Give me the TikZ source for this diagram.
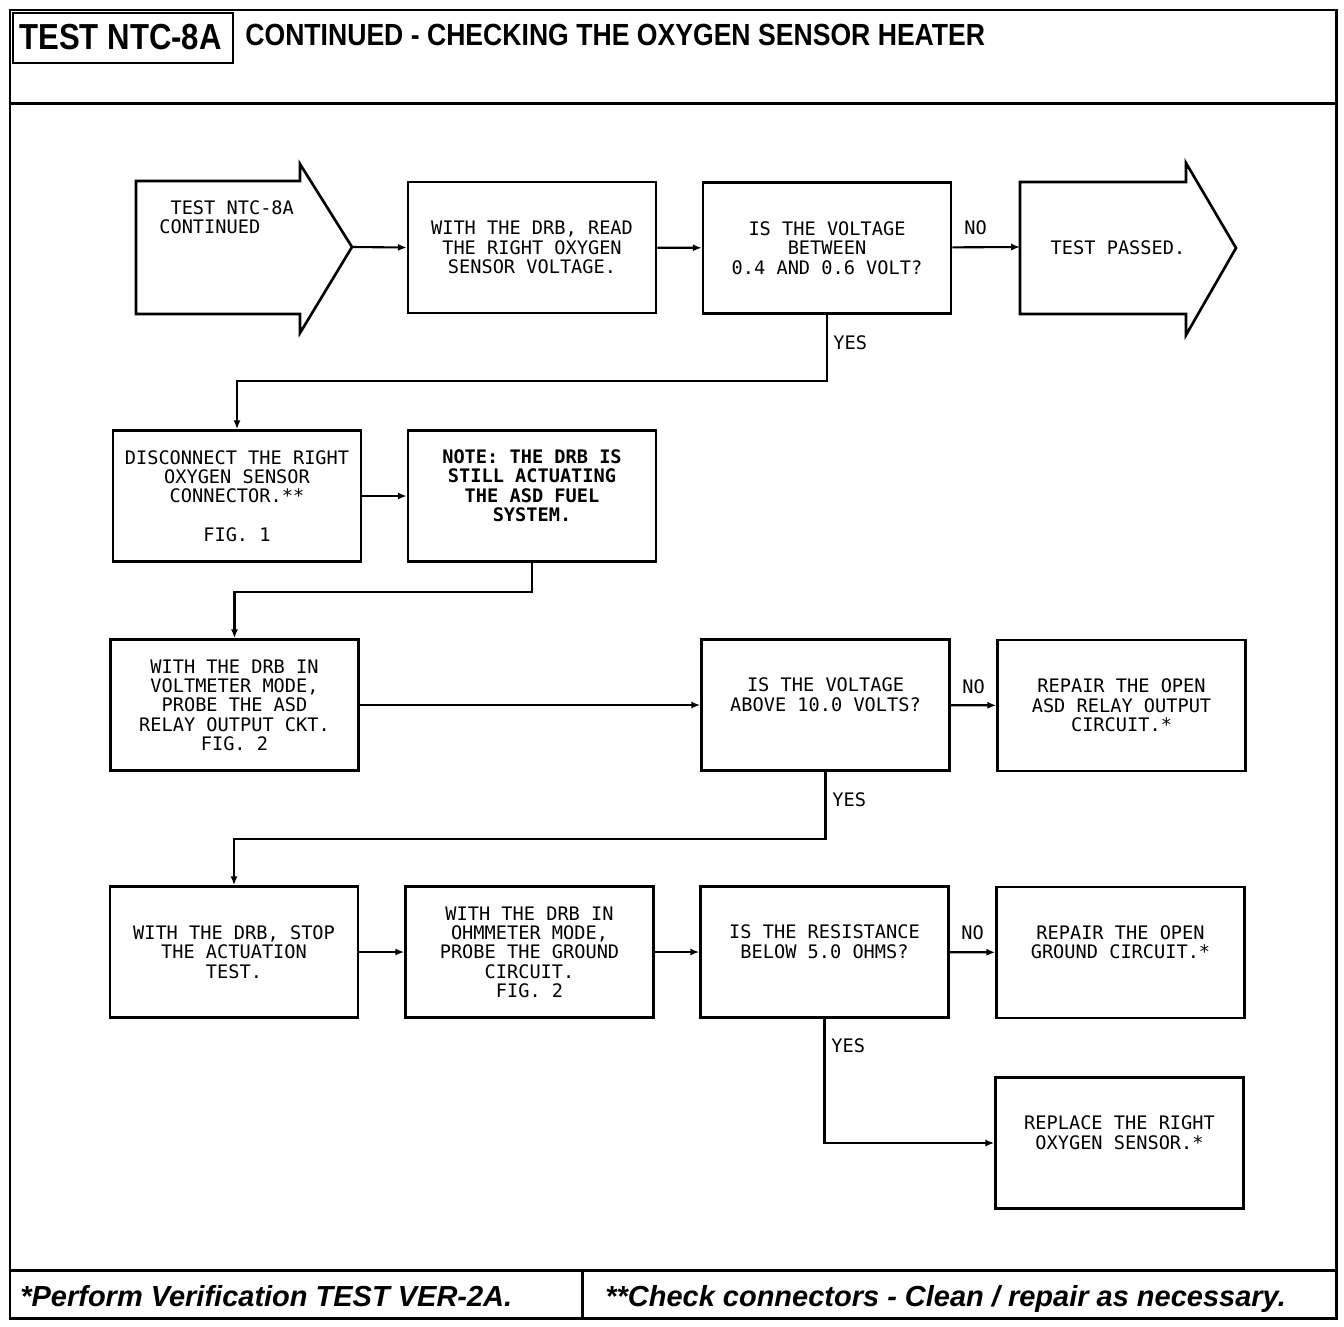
\documentclass[tikz,border=0pt]{standalone}
\usepackage{fontspec}
\usepackage{graphicx}
\setmainfont{Liberation Sans}
\newfontfamily\dotfont{DejaVu Sans Mono}
\usetikzlibrary{arrows.meta}
\newcommand\squeeze[2]{\scalebox{#1}[1]{#2}}

\begin{document}
\begin{tikzpicture}[
    x=0.02cm, y=-0.02cm,
    frame/.style={line width=1.7pt},
    outline/.style={line width=1.5pt, line join=miter},
    boxtext/.style={inner sep=0pt, align=center,
                    font=\dotfont\fontsize{10.6}{11}\selectfont},
    stepbox/.style={boxtext, draw, line width=1.5pt, minimum width=4.96cm,
                    minimum height=2.62cm},
    upper/.style={text depth=12pt},
    tag/.style={boxtext, anchor=west},
    flow/.style={line width=1.2pt, -{Latex[length=5pt,width=4pt]}},
    head/.style={inner sep=0pt, anchor=west, font=\bfseries},
    foot/.style={inner sep=0pt, anchor=base west,
                 font=\bfseries\itshape\fontsize{16.5}{18}\selectfont},
]
\useasboundingbox (0,0) rectangle (1344,1326);

% ---- frame, header and footer ----
\draw[frame] (10,10) rectangle (1336,1318);
\draw[frame] (10,103) -- (1336,103);
\draw[frame] (10,1270) -- (1336,1270);
\draw[frame] (582,1270) -- (582,1318);
\draw[line width=0.9pt] (13,13) rectangle (233,63);
\node[head, font=\bfseries\fontsize{20.6}{22}\selectfont] (testid) at (19,37)
    {\squeeze{0.86}{TEST NTC-8A}};
\node[head, font=\bfseries\fontsize{17.4}{19}\selectfont] (title) at (245,35)
    {\squeeze{0.87}{CONTINUED - CHECKING THE OXYGEN SENSOR HEATER}};
\node[foot] (note1) at (20,1306) {*Perform Verification TEST VER-2A.};
\node[foot] (note2) at (605,1306) {**Check connectors - Clean / repair as necessary.};

% ---- pointers: start and end of the test ----
\draw[outline] (300,181) -- (136,181) -- (136,314) -- (300,314) -- (300,333)
    -- (352,247) -- (300,164) -- cycle;
\coordinate (starttip) at (352,247);
\node[boxtext, align=left, anchor=north west] (start) at (159,200)
    {\phantom{C}TEST NTC-8A\\CONTINUED};

\draw[outline] (1186,182) -- (1020,182) -- (1020,314) -- (1186,314) -- (1186,335)
    -- (1236,248) -- (1186,163) -- cycle;
\coordinate (passin) at (1020,247);
\node[boxtext] (pass) at (1118,248) {TEST PASSED.};

% ---- row 1 ----
\node[stepbox] (read) at (532,247.5)
    {WITH THE DRB, READ\\THE RIGHT OXYGEN\\SENSOR VOLTAGE.};
\node[stepbox] (between) at (827,248)
    {IS THE VOLTAGE\\BETWEEN\\0.4 AND 0.6 VOLT?};

% ---- row 2 ----
\node[stepbox] (unplug) at (237,496)
    {DISCONNECT THE RIGHT\\OXYGEN SENSOR\\CONNECTOR.**\\[11pt]FIG. 1};
\node[stepbox, upper, font=\dotfont\bfseries\fontsize{10.6}{11}\selectfont] (note) at (532,496)
    {NOTE: THE DRB IS\\STILL ACTUATING\\THE ASD FUEL\\SYSTEM.};

% ---- row 3 ----
\node[stepbox] (probeasd) at (234.5,705)
    {WITH THE DRB IN\\VOLTMETER MODE,\\PROBE THE ASD\\RELAY OUTPUT CKT.\\FIG. 2};
\node[stepbox, upper] (above) at (825.5,705)
    {IS THE VOLTAGE\\ABOVE 10.0 VOLTS?};
\node[stepbox] (fixasd) at (1121.5,705.5)
    {REPAIR THE OPEN\\ASD RELAY OUTPUT\\CIRCUIT.*};

% ---- row 4 ----
\node[stepbox] (stop) at (234,952)
    {WITH THE DRB, STOP\\THE ACTUATION\\TEST.};
\node[stepbox] (probegnd) at (529.5,952)
    {WITH THE DRB IN\\OHMMETER MODE,\\PROBE THE GROUND\\CIRCUIT.\\FIG. 2};
\node[stepbox, upper] (below) at (824.5,952)
    {IS THE RESISTANCE\\BELOW 5.0 OHMS?};
\node[stepbox, upper] (fixgnd) at (1120.5,952.5)
    {REPAIR THE OPEN\\GROUND CIRCUIT.*};
\node[stepbox, upper] (replace) at (1119.5,1143)
    {REPLACE THE RIGHT\\OXYGEN SENSOR.*};

% ---- connectors ----
\draw[flow] (starttip) -- (read.west);
\draw[flow] (read) -- (between);
\draw[flow] (between) -- (passin);
\draw[flow] (between.south) -- ++(0,66) -| (unplug.north);
\draw[flow] (unplug) -- (note);
\draw[flow] (note.south) -- ++(0,29) -| (probeasd.north);
\draw[flow] (probeasd) -- (above);
\draw[flow] (above) -- (fixasd);
\draw[flow] (above.south) -- ++(0,67) -| (stop.north);
\draw[flow] (stop) -- (probegnd);
\draw[flow] (probegnd) -- (below);
\draw[flow] (below) -- (fixgnd);
\draw[flow] (below.south) |- (replace.west);

% ---- answers ----
\node[tag] (no1) at (964,228) {NO};
\node[tag] (yes1) at (833,343) {YES};
\node[tag] (no2) at (962,687) {NO};
\node[tag] (yes2) at (832,800) {YES};
\node[tag] (no3) at (961,933) {NO};
\node[tag] (yes3) at (831,1046) {YES};
\end{tikzpicture}
\end{document}
